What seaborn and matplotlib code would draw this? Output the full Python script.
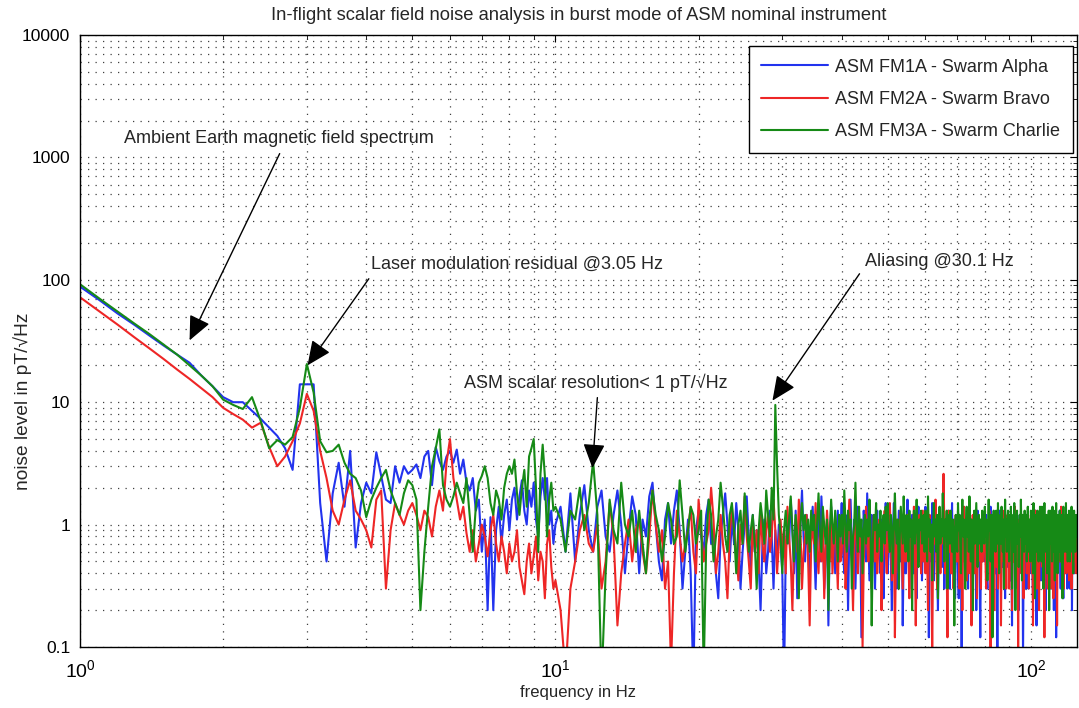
"""In-flight scalar field noise spectra (burst mode) of the three ASM instruments."""
import numpy as np
import pandas as pd
import matplotlib
matplotlib.use("Agg")
import matplotlib.pyplot as plt
from matplotlib.ticker import FixedLocator, FuncFormatter, LogLocator, NullFormatter
import seaborn as sns

SERIES = ["ASM FM1A - Swarm Alpha", "ASM FM2A - Swarm Bravo", "ASM FM3A - Swarm Charlie"]
COLORS = {SERIES[0]: "#2233ee", SERIES[1]: "#ee2626", SERIES[2]: "#168a16"}

# spectrum bins: 0.1 Hz steps from 1 Hz, 0.25 Hz steps from 10 Hz
LOW_START, LOW_STEP = 1.0, 0.1
HIGH_START, HIGH_STEP = 10.0, 0.25

BLUE_LOW = [
    88, 68, 53, 43, 35, 29, 24.5, 21, 16.5, 13.5,
    11, 10, 10, 8.5, 7.3, 6.2, 5.3, 4.2, 2.8, 14,
    14, 14, 1.5, 0.5, 1.8, 3.2, 1.4, 4.0, 0.65, 1.5,
    2.2, 1.8, 3.9, 2.5, 1.6, 1.5, 3.0, 2.2, 3.0, 2.6,
    2.8, 3.1, 2.4, 3.6, 4.0, 2.1, 4.3, 3.3, 2.8, 3.6,
    4.0, 3.2, 4.1, 2.6, 3.4, 2.2, 1.9, 2.4, 1.3, 1.6,
    0.6, 1.1, 0.2, 1.15, 0.2, 0.9, 1.4, 0.7, 1.2, 1.6,
    0.9, 1.6, 2.0, 1.1, 1.7, 2.3, 1.3, 1.0, 1.9, 1.4,
    2.2, 1.1, 0.8, 1.7, 2.4, 1.6, 2.4, 1.0, 1.3, 0.7,
]
RED_LOW = [
    72, 55, 43, 34, 27.5, 22.5, 18.5, 15.5, 13, 11,
    9.0, 8.0, 7.2, 6.2, 6.8, 4.3, 3.0, 3.6, 4.8, 6.7,
    11.7, 8.5, 4.0, 2.4, 1.3, 1.0, 1.6, 2.3, 1.3, 1.1,
    0.9, 0.65, 1.6, 1.9, 0.3, 0.9, 1.5, 1.2, 1.0, 1.3,
    1.5, 1.2, 0.9, 1.3, 1.15, 0.8, 1.4, 1.9, 1.3, 3.2,
    5.0, 2.4, 1.6, 1.1, 1.4, 0.85, 0.6, 0.9, 0.5, 0.7,
    1.0, 0.8, 0.55, 0.9, 1.2, 0.7, 0.5, 0.8, 0.6, 0.4,
    0.7, 0.5, 0.6, 0.9, 0.45, 0.35, 0.27, 0.5, 0.7, 0.4,
    0.55, 0.8, 0.35, 0.6, 0.5, 0.25, 0.7, 0.9, 0.45, 0.3,
]
GREEN_LOW = [
    92, 70, 55, 44, 36, 29.5, 24.5, 20, 16.5, 13.5,
    10.5, 9.5, 8.8, 11, 7.0, 4.2, 4.9, 4.5, 5.2, 9.0,
    20.5, 12, 4.8, 3.9, 4.0, 4.5, 3.2, 2.6, 2.4, 1.9,
    1.15, 1.6, 2.0, 2.4, 2.8, 1.9, 1.5, 1.2, 1.8, 2.3,
    2.1, 1.6, 0.2, 0.6, 1.4, 3.0, 4.2, 6.0, 2.1, 1.6,
    1.4, 1.7, 2.2, 1.8, 1.5, 2.4, 1.2, 0.6, 1.4, 2.2,
    2.5, 3.0, 2.4, 1.5, 1.2, 1.9, 1.6, 1.1, 2.0, 2.6,
    3.0, 2.6, 3.4, 1.8, 1.2, 2.0, 2.8, 1.4, 3.6, 4.2,
    5.0, 2.0, 0.6, 2.6, 4.5, 2.5, 0.8, 1.6, 2.2, 1.3,
]

# one row = 5 Hz (20 bins)
BLUE_HIGH = [
    1.0, 1.4, 0.6, 1.8, 0.5, 1.2, 2.1, 0.9, 0.6, 1.4, 1.9, 0.8, 0.6, 1.2, 1.9, 1.0, 0.4, 0.9, 1.7, 1.2,
    0.4, 1.1, 0.8, 1.7, 2.2, 1.0, 0.5, 0.35, 1.1, 1.5, 0.7, 1.3, 1.9, 0.9, 0.3, 0.6, 1.1, 0.4, 0.05, 0.9,
    1.3, 0.8, 0.6, 1.2, 1.6, 0.7, 0.9, 0.4, 0.25, 0.8, 1.2, 1.8, 1.0, 0.5, 1.1, 0.7, 1.5, 0.9, 0.3, 0.6,
    1.0, 1.7, 0.8, 0.45, 1.2, 0.6, 0.9, 0.5, 0.2, 0.7, 1.1, 0.4, 0.6, 1.3, 0.8, 0.3, 0.9, 0.5, 1.0, 0.7,
    0.4, 0.05, 0.6, 1.1, 0.7, 1.6, 0.9, 0.4, 1.3, 0.25, 0.7, 1.0, 1.9, 0.8, 0.5, 1.2, 0.6, 0.35, 0.9, 1.4,
    0.7, 0.3, 0.8, 1.2, 0.5, 1.7, 0.9, 0.3, 0.6, 1.1, 0.15, 0.8, 1.4, 0.6, 1.0, 0.4, 0.7, 1.3, 0.5, 0.9,
    1.5, 0.6, 0.4, 1.2, 0.8, 0.2, 0.9, 1.6, 0.7, 0.5, 1.1, 0.3, 0.8, 1.4, 0.6, 1.0, 0.12, 0.7, 1.3, 0.9,
    0.5, 1.8, 0.8, 0.35, 0.9, 1.2, 0.5, 1.0, 0.3, 0.8, 1.3, 0.6, 0.9, 0.4, 1.1, 0.7, 0.25, 0.9, 1.5, 0.6,
    0.4, 1.1, 0.8, 0.5, 0.2, 0.9, 1.5, 0.6, 1.0, 0.3, 0.7, 1.3, 0.8, 0.5, 1.2, 0.15, 0.6, 1.0, 0.4, 0.9,
    1.6, 0.7, 0.3, 0.9, 0.5, 1.2, 0.8, 0.4, 1.1, 0.6, 0.25, 0.9, 1.4, 0.5, 0.8, 1.1, 0.35, 0.7, 1.0, 0.5,
    1.4, 0.6, 0.4, 0.9, 0.12, 0.7, 1.1, 0.5, 1.5, 0.8, 0.35, 0.9, 0.6, 1.2, 0.4, 0.2, 0.8, 1.3, 0.6, 1.0,
    0.45, 0.9, 1.2, 0.3, 0.7, 1.0, 0.5, 0.8, 1.3, 0.6, 0.3, 0.9, 0.7, 1.5, 0.4, 0.8, 1.1, 0.25, 0.7, 1.0,
    0.9, 0.4, 0.25, 1.2, 0.7, 0.5, 0.1, 0.6, 0.8, 1.4, 0.5, 0.9, 0.4, 1.0, 0.6, 0.3, 0.9, 1.3, 0.7, 0.5,
    1.1, 0.6, 0.35, 0.8, 1.2, 0.5, 0.9, 0.2, 0.7, 1.3, 0.6, 0.9, 0.4, 0.12, 0.7, 1.0, 0.5, 0.8, 1.2, 0.6,
    0.5, 0.9, 1.2, 0.4, 0.3, 0.8, 0.6, 1.1, 0.7, 1.4, 0.5, 0.2, 0.8, 1.0, 0.6, 0.9, 1.1, 0.4, 0.7, 0.5,
    0.07, 0.6, 0.9, 0.5, 1.3, 0.7, 0.3, 0.8, 1.0, 0.45, 0.7, 1.2, 0.5, 0.25, 0.8, 1.0, 0.6, 0.9, 0.45, 0.7,
    1.2, 0.5, 0.35, 0.8, 0.6, 0.15, 0.7, 1.0, 0.5, 1.3, 0.8, 0.3, 0.6, 0.9, 1.1, 0.4, 0.7, 0.2, 0.9, 1.2,
    0.6, 0.9, 0.4, 1.2, 0.7, 0.08, 0.5, 0.8, 1.1, 0.6, 0.3, 0.9, 0.5, 1.1, 0.7, 0.3, 0.8, 1.0, 0.4, 0.6,
    0.9, 0.6, 1.2, 0.4, 0.25, 0.8, 1.0, 0.45, 0.7, 1.3, 0.5, 0.15, 0.7, 1.0, 0.6, 0.9, 0.35, 0.8, 1.3, 0.5,
    0.35, 0.9, 0.6, 1.1, 0.5, 0.8, 0.3, 1.2, 0.6, 0.9, 0.2, 0.7, 1.0, 0.45, 0.8, 0.6, 1.0, 0.4, 0.7, 0.55,
    1.1, 0.4, 0.3, 0.8, 0.6, 1.2, 0.5, 0.2, 0.9, 0.7, 1.0, 0.6, 0.12, 0.8, 1.0, 0.4, 0.7, 0.9, 0.5, 0.8,
    1.3, 0.5, 0.3, 0.7, 0.9, 0.5, 1.0, 0.4, 0.25, 0.9, 0.6, 1.1, 0.7, 0.4, 0.8, 0.6, 1.2, 0.3, 0.7, 0.5,
    0.4, 1.1, 0.6, 0.3, 0.8, 0.55, 1.0, 0.7, 0.2, 0.9, 0.6, 0.5, 1.2, 0.7, 0.4, 0.8, 0.6, 1.0, 0.45, 0.7,
    0.6,
]
RED_HIGH = [
    0.35, 0.2, 0.06, 0.3, 0.5, 0.9, 1.2, 0.7, 0.6, 1.0, 0.3, 0.5, 1.5, 0.8, 0.15, 0.4, 0.7, 1.1, 0.5, 0.9,
    1.1, 0.6, 0.4, 0.8, 1.9, 1.0, 0.6, 0.9, 0.3, 0.5, 0.07, 0.4, 1.3, 0.8, 0.5, 0.7, 0.9, 1.4, 0.6, 0.4,
    1.6, 0.9, 0.5, 0.7, 0.9, 2.0, 1.1, 0.4, 0.6, 1.2, 0.7, 0.5, 0.25, 0.8, 1.4, 0.9, 0.6, 0.35, 1.0, 0.7,
    1.7, 0.8, 0.5, 0.3, 1.1, 0.6, 0.9, 0.4, 1.3, 0.7, 0.5, 0.9, 1.2, 0.6, 0.8, 1.6, 0.9, 0.4, 0.7, 1.1,
    0.6, 0.9, 0.4, 1.4, 0.8, 0.5, 0.2, 0.7, 1.1, 0.6, 1.6, 0.9, 0.3, 0.6, 0.8, 1.2, 0.5, 0.15, 0.7, 1.0,
    0.7, 1.5, 0.6, 0.4, 0.9, 0.5, 1.1, 0.25, 0.6, 1.3, 0.8, 0.5, 1.0, 0.4, 0.7, 1.2, 0.6, 0.3, 0.9, 0.5,
    0.6, 1.1, 0.8, 0.3, 0.5, 0.9, 1.6, 0.7, 0.5, 0.2, 0.6, 1.2, 0.9, 0.4, 0.7, 1.0, 0.6, 0.1, 0.5, 0.8,
    1.4, 0.7, 0.5, 0.9, 0.6, 0.3, 0.8, 1.2, 0.5, 0.9, 0.4, 0.6, 1.1, 0.8, 0.2, 0.5, 0.9, 1.3, 0.6, 0.4,
    1.0, 0.6, 1.5, 0.8, 0.35, 0.6, 0.9, 0.12, 0.5, 1.1, 0.7, 0.4, 0.9, 1.3, 0.6, 0.3, 0.8, 1.0, 0.5, 0.7,
    1.2, 0.6, 0.25, 0.7, 1.0, 0.5, 0.8, 1.4, 0.6, 0.15, 0.5, 0.9, 0.6, 1.2, 0.8, 0.4, 0.7, 1.3, 0.5, 0.9,
    0.4, 0.9, 0.6, 0.2, 0.7, 1.2, 0.8, 0.5, 0.08, 0.6, 1.0, 0.7, 1.6, 0.5, 0.3, 0.8, 0.6, 1.1, 0.4, 0.9,
    0.7, 1.2, 2.6, 0.9, 0.4, 0.7, 0.5, 0.12, 0.8, 1.3, 0.6, 0.9, 0.4, 0.7, 1.0, 0.3, 0.6, 0.9, 1.2, 0.5,
    0.5, 1.2, 0.7, 0.3, 0.8, 1.0, 0.6, 0.2, 0.9, 1.4, 0.5, 0.7, 0.9, 0.35, 1.1, 0.6, 0.4, 0.8, 1.2, 0.5,
    0.15, 0.7, 1.2, 0.6, 0.9, 0.4, 1.0, 0.7, 0.25, 0.8, 0.5, 1.0, 0.6, 0.9, 0.3, 0.8, 1.1, 0.5, 0.7, 0.6,
    1.1, 0.5, 0.3, 0.9, 0.6, 0.8, 0.5, 1.3, 0.7, 0.07, 0.6, 0.8, 1.0, 0.5, 0.7, 0.2, 0.9, 1.2, 0.6, 0.45,
    0.9, 0.3, 0.7, 1.1, 0.5, 0.8, 0.15, 0.6, 0.9, 1.3, 0.5, 0.8, 0.4, 1.0, 0.6, 0.3, 0.8, 1.2, 0.5, 1.0,
    0.3, 0.8, 1.2, 0.6, 0.9, 0.2, 0.6, 1.0, 0.5, 0.8, 1.4, 0.7, 0.35, 0.9, 0.6, 1.1, 0.1, 0.5, 0.9, 1.1,
    0.6, 0.9, 0.4, 0.7, 1.2, 0.5, 0.25, 0.8, 1.0, 0.6, 0.7, 1.2, 0.4, 0.9, 0.5, 1.0, 0.3, 0.7, 0.9, 0.5,
    1.2, 0.6, 0.4, 0.8, 0.15, 0.7, 1.0, 0.5, 0.9, 1.3, 0.6, 0.3, 0.9, 0.7, 0.5, 1.1, 0.2, 0.6, 0.9, 0.7,
    1.0, 0.5, 0.8, 0.45, 0.9, 1.2, 0.6, 0.12, 0.7, 1.0, 0.5, 1.2, 0.8, 0.6, 0.3, 0.9, 0.7, 1.1, 0.5, 0.8,
    0.3, 0.7, 1.0, 0.6, 1.3, 0.8, 0.25, 0.6, 0.8, 0.5, 1.1, 0.7, 0.35, 0.9, 0.15, 0.7, 1.2, 0.6, 0.8, 0.5,
    1.0, 0.6, 0.5, 1.4, 0.8, 0.4, 0.7, 1.0, 0.6, 0.3, 0.9, 0.7, 1.2, 0.5, 0.8, 0.4, 1.0, 0.6, 0.9, 0.7,
    1.0, 0.35, 0.7, 0.9, 0.5, 1.2, 0.6, 0.3, 0.8, 0.6, 1.1, 0.4, 0.9, 0.7, 0.5, 1.0, 0.6, 0.8, 0.4, 0.9,
    0.7,
]
GREEN_HIGH = [
    1.4, 1.1, 0.6, 1.3, 1.1, 2.0, 0.9, 1.5, 3.3, 1.2, 0.05, 0.4, 1.6, 0.9, 0.7, 2.2, 1.0, 0.8, 1.3, 0.6,
    1.3, 0.7, 0.4, 1.1, 1.9, 1.2, 0.9, 0.5, 0.8, 1.5, 1.1, 0.7, 0.8, 2.3, 1.2, 0.6, 0.9, 1.4, 1.2, 0.7,
    0.9, 1.3, 0.06, 0.7, 1.6, 1.2, 0.5, 0.8, 1.1, 2.2, 1.4, 0.8, 0.6, 1.2, 1.5, 0.9, 0.4, 1.0, 1.3, 0.7,
    1.8, 1.1, 0.6, 0.9, 1.2, 0.7, 0.3, 0.9, 1.5, 1.1, 0.7, 1.9, 1.2, 0.8, 2.0, 1.1, 9.5, 3.0, 1.2, 0.8,
    0.4, 0.9, 1.3, 0.7, 1.1, 1.7, 0.9, 0.5, 1.2, 0.8, 0.25, 1.0, 1.5, 0.9, 1.2, 0.7, 1.1, 0.6, 1.3, 0.9,
    1.2, 0.5, 1.0, 1.8, 0.9, 0.6, 1.4, 1.0, 0.7, 1.1, 0.2, 0.8, 1.6, 1.0, 0.7, 1.3, 0.9, 0.5, 1.2, 0.8,
    1.2, 0.7, 1.9, 1.0, 0.6, 1.3, 0.9, 1.1, 0.3, 0.8, 1.0, 2.2, 0.9, 0.6, 1.4, 0.8, 1.1, 0.4, 0.9, 1.2,
    0.7, 1.1, 0.8, 1.6, 0.9, 0.15, 0.7, 1.2, 0.9, 1.5, 0.6, 1.0, 0.8, 1.3, 0.5, 1.0, 1.2, 0.7, 1.4, 0.9,
    1.5, 0.8, 0.6, 1.2, 0.9, 0.4, 1.1, 1.8, 0.9, 0.7, 1.1, 0.3, 0.8, 1.4, 1.0, 0.7, 1.7, 0.9, 0.6, 1.2,
    1.0, 0.5, 1.3, 0.8, 1.1, 0.2, 0.9, 1.3, 0.7, 1.0, 1.6, 0.8, 0.45, 1.1, 0.9, 1.3, 0.7, 1.0, 1.2, 0.6,
    1.3, 0.9, 0.5, 1.7, 0.8, 1.1, 0.6, 1.0, 0.35, 0.9, 1.5, 0.8, 1.1, 0.6, 1.2, 0.25, 0.9, 1.4, 0.7, 1.1,
    0.8, 1.8, 1.0, 0.5, 1.1, 0.8, 1.3, 0.3, 0.9, 1.2, 0.7, 1.3, 0.9, 0.6, 1.1, 0.8, 0.15, 0.9, 1.2, 0.7,
    0.6, 1.5, 0.9, 1.2, 0.7, 0.4, 1.0, 1.6, 0.8, 1.1, 0.7, 0.3, 1.0, 1.4, 0.8, 1.1, 0.6, 1.7, 0.9, 0.5,
    1.1, 0.8, 0.2, 0.9, 1.3, 0.7, 1.0, 1.5, 0.8, 0.45, 1.0, 1.2, 0.7, 1.1, 0.9, 0.6, 1.3, 0.8, 1.0, 0.7,
    1.4, 0.8, 1.1, 0.6, 0.35, 1.0, 1.6, 0.9, 1.2, 0.5, 0.8, 1.2, 0.12, 0.9, 1.3, 0.7, 1.0, 0.6, 1.3, 0.9,
    0.7, 1.5, 0.9, 0.4, 1.0, 1.2, 0.7, 1.4, 0.9, 0.6, 1.1, 0.3, 0.9, 1.6, 0.8, 1.1, 0.6, 1.0, 1.3, 0.8,
    0.5, 1.2, 0.8, 1.4, 0.9, 0.3, 1.0, 1.2, 0.6, 1.5, 0.9, 0.2, 0.8, 1.1, 1.3, 0.7, 1.0, 0.45, 0.9, 1.2,
    0.8, 1.6, 0.9, 0.35, 1.2, 0.8, 1.0, 0.6, 1.3, 0.9, 0.7, 1.2, 0.5, 1.0, 1.4, 0.8, 0.6, 1.1, 0.9, 0.5,
    1.3, 0.8, 1.1, 0.6, 0.4, 1.5, 0.9, 0.7, 0.25, 1.2, 0.8, 1.0, 0.6, 1.3, 0.9, 0.5, 1.1, 0.8, 1.4, 0.7,
    1.0, 0.5, 1.4, 0.8, 1.1, 0.3, 0.9, 1.5, 0.7, 1.0, 0.6, 1.2, 0.9, 0.4, 1.1, 0.8, 1.3, 0.2, 0.9, 1.3,
    0.7, 1.2, 0.9, 0.5, 1.4, 0.8, 1.1, 0.6, 1.0, 0.35, 1.3, 0.9, 1.5, 0.7, 1.0, 0.4, 1.2, 0.8, 1.1, 0.6,
    1.3, 0.9, 0.5, 1.2, 0.8, 1.0, 0.25, 0.9, 1.4, 0.7, 1.1, 0.6, 1.0, 0.8, 1.5, 0.6, 0.9, 1.2, 0.5, 1.1,
    0.8, 1.3, 0.9, 0.5, 1.0, 1.2, 0.7, 1.4, 0.6, 0.9, 1.1, 0.4, 1.0, 1.3, 0.8, 1.2, 0.6, 1.0, 0.8, 1.2,
    0.9,
]

# (text, text anchor (Hz, value), arrow tail, arrow tip)
NOTES = [
    ("Ambient Earth magnetic field spectrum", (1.24, 1425), (2.63, 1074), (1.70, 32)),
    ("Laser modulation residual @3.05 Hz", (4.10, 133), (4.05, 102), (3.01, 20)),
    ("ASM scalar resolution< 1 pT/√Hz", (6.41, 14.5), (12.25, 10.9), (11.96, 2.9)),
    ("Aliasing @30.1 Hz", (44.7, 141), (43.6, 112), (28.6, 10.3)),
]


def _bins(start, step, n):
    return np.round(start + step * np.arange(n), 2)


def make():
    frames = []
    for name, lo, hi in zip(SERIES, [BLUE_LOW, RED_LOW, GREEN_LOW],
                            [BLUE_HIGH, RED_HIGH, GREEN_HIGH]):
        freq = np.concatenate([_bins(LOW_START, LOW_STEP, len(lo)),
                               _bins(HIGH_START, HIGH_STEP, len(hi))])
        frames.append(pd.DataFrame({"freq": freq, "noise": lo + hi, "series": name}))
    df = pd.concat(frames, ignore_index=True)

    sns.set_style("white")
    plt.rcParams["font.family"] = ["Liberation Sans", "DejaVu Sans"]
    plt.rcParams.update({"mathtext.fontset": "custom", "mathtext.rm": "Liberation Sans",
                         "mathtext.it": "Liberation Sans:italic"})

    fig = plt.figure(figsize=(10.79, 7.08), dpi=100)
    ax = fig.add_axes([80 / 1079, 1 - 647 / 708, 997 / 1079, 612 / 708])
    sns.lineplot(data=df, x="freq", y="noise", hue="series", hue_order=SERIES,
                 palette=COLORS, estimator=None, sort=False, lw=1.5, ax=ax)
    ax.set_xscale("log"); ax.set_yscale("log")
    ax.set_xlim(1, 125); ax.set_ylim(0.1, 10000)

    ax.yaxis.set_major_locator(FixedLocator([0.1, 1, 10, 100, 1000, 10000]))
    ax.yaxis.set_major_formatter(FuncFormatter(lambda v, _: f"{v:g}"))
    ax.yaxis.set_minor_locator(LogLocator(base=10, subs=range(2, 10), numticks=20))
    ax.yaxis.set_minor_formatter(NullFormatter())
    ax.xaxis.set_minor_locator(LogLocator(base=10, subs=range(2, 10), numticks=20))
    ax.xaxis.set_minor_formatter(NullFormatter())
    ax.tick_params(which="both", direction="in", top=True, right=True, colors="k")
    ax.tick_params(which="major", length=5)
    ax.tick_params(axis="y", which="major", labelsize=12.5, pad=7)
    ax.tick_params(axis="x", which="major", labelsize=14, pad=9)
    ax.tick_params(which="minor", length=3)
    ax.grid(True, which="both", ls=(0, (1, 5)), lw=0.9, color="0.25")
    for s in ax.spines.values():
        s.set_color("k"); s.set_linewidth(1.0)

    for text, txy, tail, tip in NOTES:
        ax.text(*txy, text, ha="left", va="center", fontsize=13)
        ax.annotate("", xy=tip, xytext=tail,
                    arrowprops=dict(arrowstyle="-|>,head_length=1.0,head_width=0.45",
                                    color="k", lw=1.0, mutation_scale=15,
                                    shrinkA=0, shrinkB=0))

    handles, labels = ax.get_legend_handles_labels()
    leg = ax.legend(handles, labels, loc="upper right", bbox_to_anchor=(0.996, 0.982),
                    borderaxespad=0, fancybox=False, edgecolor="k", framealpha=1,
                    fontsize=13, handlelength=3.7, labelspacing=0.85,
                    borderpad=0.7, handletextpad=0.4)
    leg.get_frame().set_linewidth(1.0)

    ax.set_title("In-flight scalar field noise analysis in burst mode of ASM nominal instrument",
                 fontsize=13.2, pad=11)
    ax.set_xlabel("frequency in Hz", fontsize=12)
    ax.set_ylabel("noise level in pT/√Hz", fontsize=13.8)
    ax.yaxis.set_label_coords(-0.048, 0.402)
    ax.xaxis.set_label_coords(0.5, -0.062)
    fig.savefig("out.png", dpi=100)
    plt.close(fig)


if __name__ == "__main__":
    make()
